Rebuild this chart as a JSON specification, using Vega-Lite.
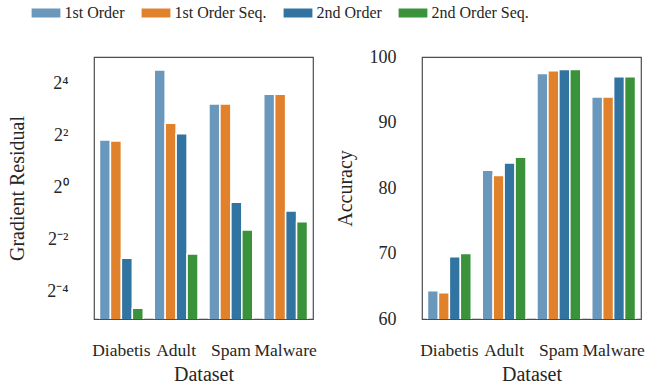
{
  "$schema": "https://vega.github.io/schema/vega-lite/v6.json",
  "padding": {"left": 7, "top": 4, "right": 4, "bottom": 0},
  "background": "white",
  "config": {
    "font": "Liberation Serif",
    "view": {"stroke": "#4d4d4d", "strokeWidth": 1.2},
    "axis": {
      "labelFont": "Liberation Serif",
      "titleFont": "Liberation Serif",
      "labelFontSize": 18,
      "titleFontSize": 20,
      "titleFontWeight": "normal",
      "labelColor": "#262626",
      "titleColor": "#262626",
      "ticks": false,
      "domain": false,
      "grid": false
    },
    "legend": {
      "labelFont": "Liberation Serif",
      "labelFontSize": 16,
      "labelColor": "#262626"
    },
    "concat": {"spacing": 17}
  },
  "data": {
    "values": [
      {"dataset": "Diabetis", "method": "1st Order", "residual": 3.55, "accuracy": 64.3},
      {"dataset": "Diabetis", "method": "1st Order Seq.", "residual": 3.45, "accuracy": 64.0},
      {"dataset": "Diabetis", "method": "2nd Order", "residual": 0.152, "accuracy": 69.5},
      {"dataset": "Diabetis", "method": "2nd Order Seq.", "residual": 0.040, "accuracy": 70.0},
      {"dataset": "Adult", "method": "1st Order", "residual": 22.9, "accuracy": 82.7},
      {"dataset": "Adult", "method": "1st Order Seq.", "residual": 5.54, "accuracy": 81.9},
      {"dataset": "Adult", "method": "2nd Order", "residual": 4.2, "accuracy": 83.8},
      {"dataset": "Adult", "method": "2nd Order Seq.", "residual": 0.170, "accuracy": 84.7},
      {"dataset": "Spam", "method": "1st Order", "residual": 9.26, "accuracy": 97.5},
      {"dataset": "Spam", "method": "1st Order Seq.", "residual": 9.26, "accuracy": 97.9},
      {"dataset": "Spam", "method": "2nd Order", "residual": 0.674, "accuracy": 98.1},
      {"dataset": "Spam", "method": "2nd Order Seq.", "residual": 0.322, "accuracy": 98.1},
      {"dataset": "Malware", "method": "1st Order", "residual": 12.0, "accuracy": 93.9},
      {"dataset": "Malware", "method": "1st Order Seq.", "residual": 12.0, "accuracy": 93.9},
      {"dataset": "Malware", "method": "2nd Order", "residual": 0.535, "accuracy": 97.0},
      {"dataset": "Malware", "method": "2nd Order Seq.", "residual": 0.401, "accuracy": 97.0}
    ]
  },
  "hconcat": [
    {
      "width": 219,
      "height": 262,
      "mark": {"type": "bar", "stroke": "white", "strokeWidth": 1.5, "clip": true},
      "encoding": {
        "x": {
          "field": "dataset", "type": "nominal",
          "sort": ["Diabetis", "Adult", "Spam", "Malware"],
          "scale": {"paddingInner": 0.2, "paddingOuter": 0.1},
          "axis": {"title": "Dataset", "labelAngle": 0, "labelFontSize": 17.5, "labelPadding": 22, "titlePadding": 6}
        },
        "xOffset": {
          "field": "method", "type": "nominal",
          "sort": ["1st Order", "1st Order Seq.", "2nd Order", "2nd Order Seq."]
        },
        "y": {
          "field": "residual", "type": "quantitative",
          "scale": {"type": "log", "base": 2, "domain": [0.03, 32.4], "nice": false},
          "axis": {
            "title": "Gradient Residual",
            "values": [0.0625, 0.25, 1, 4, 16],
            "labelExpr": "datum.value > 8 ? '2⁴' : datum.value > 2 ? '2²' : datum.value > 0.5 ? '2⁰' : datum.value > 0.125 ? '2⁻²' : '2⁻⁴'",
            "labelPadding": 26,
            "titlePadding": 19
          }
        },
        "y2": {"datum": 0.01},
        "color": {
          "field": "method", "type": "nominal",
          "scale": {
            "domain": ["1st Order", "1st Order Seq.", "2nd Order", "2nd Order Seq."],
            "range": ["#6a98bd", "#e1812c", "#3274a1", "#3a923a"]
          },
          "legend": {
            "orient": "none",
            "legendX": -57,
            "legendY": -53,
            "direction": "horizontal",
            "title": null,
            "labelFont": "Liberation Serif",
            "labelFontSize": 16,
            "symbolType": "M-1.6,-0.5H1.6V0.5H-1.6Z",
            "symbolSize": 324,
            "symbolStrokeWidth": 0,
            "labelOffset": 9.5,
            "columnPadding": 16
          }
        }
      }
    },
    {
      "width": 219,
      "height": 262,
      "mark": {"type": "bar", "stroke": "white", "strokeWidth": 1.5, "clip": true},
      "encoding": {
        "x": {
          "field": "dataset", "type": "nominal",
          "sort": ["Diabetis", "Adult", "Spam", "Malware"],
          "scale": {"paddingInner": 0.2, "paddingOuter": 0.1},
          "axis": {"title": "Dataset", "labelAngle": 0, "labelFontSize": 17.5, "labelPadding": 22, "titlePadding": 6}
        },
        "xOffset": {
          "field": "method", "type": "nominal",
          "sort": ["1st Order", "1st Order Seq.", "2nd Order", "2nd Order Seq."]
        },
        "y": {
          "field": "accuracy", "type": "quantitative",
          "scale": {"domain": [60, 100], "zero": false, "nice": false},
          "axis": {
            "title": "Accuracy",
            "values": [60, 70, 80, 90, 100],
            "labelPadding": 26,
            "titlePadding": 14
          }
        },
        "y2": {"datum": 50},
        "color": {
          "field": "method", "type": "nominal"
        }
      }
    }
  ],
  "resolve": {"scale": {"color": "shared"}}
}
